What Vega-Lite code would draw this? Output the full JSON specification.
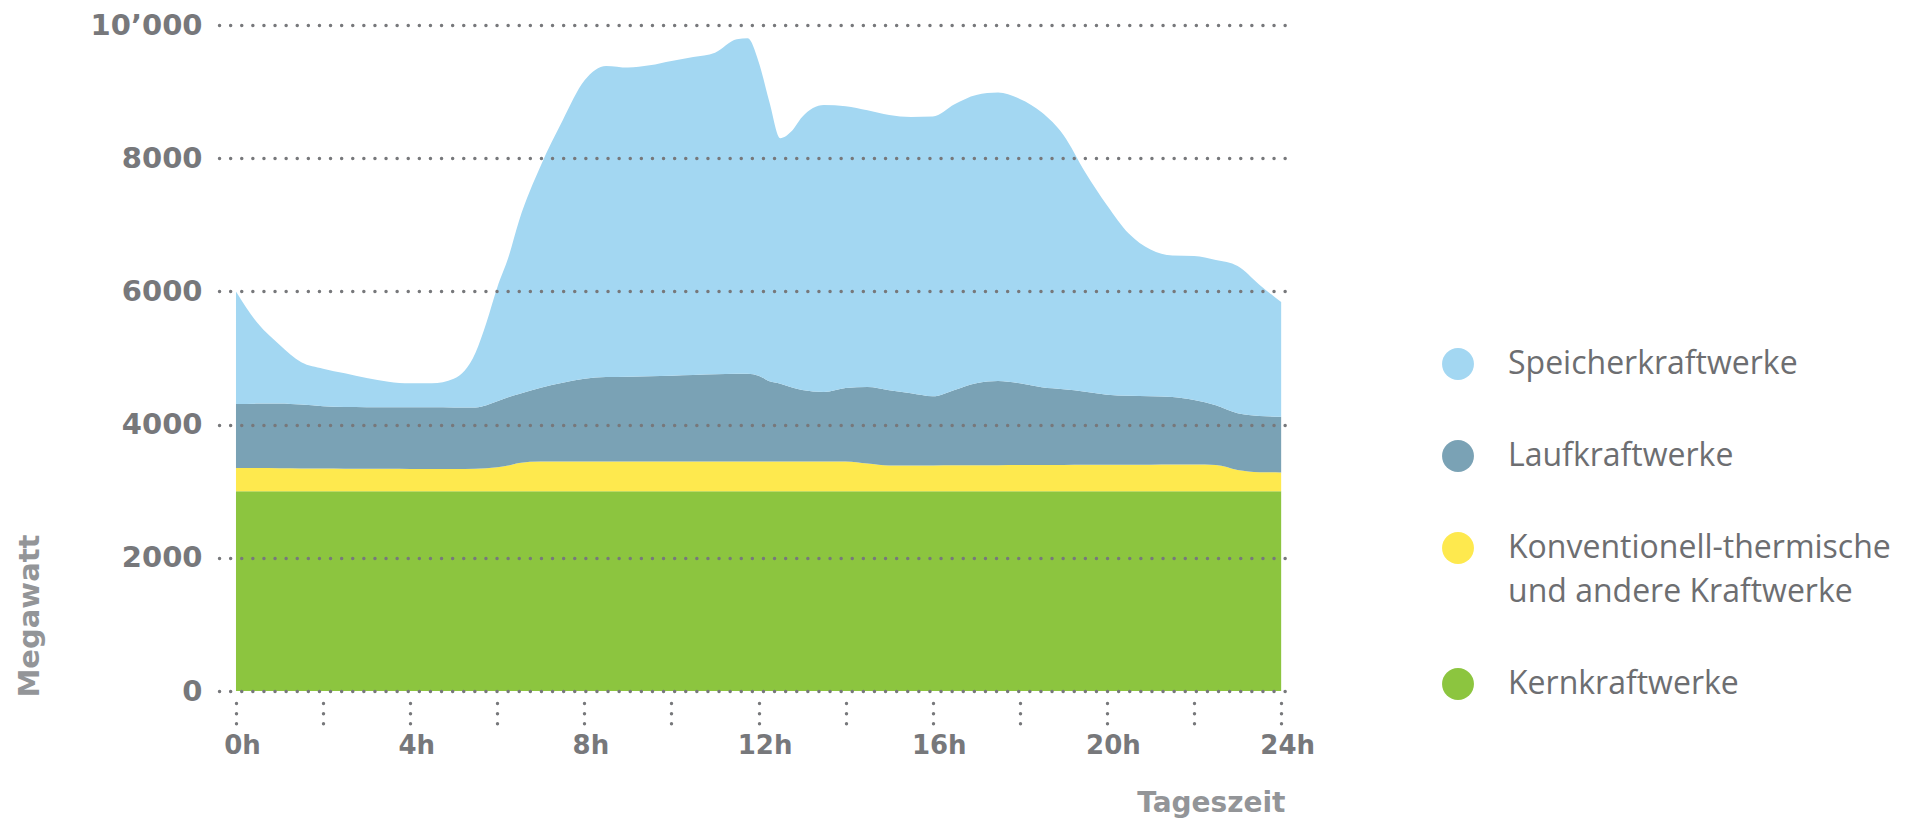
{
  "$schema": "https://vega.github.io/schema/vega-lite/v6.json",
  "autosize": {"type": "none"},
  "width": 1070,
  "height": 666,
  "padding": {"left": 219, "top": 25, "right": 630, "bottom": 131},
  "background": "white",
  "config": {"view": {"stroke": null}},
  "data": {"values": [
    {"t":0,"s":"Kernkraftwerke","v":3000},{"t":0.5,"s":"Kernkraftwerke","v":3000},{"t":1,"s":"Kernkraftwerke","v":3000},{"t":1.5,"s":"Kernkraftwerke","v":3000},{"t":2,"s":"Kernkraftwerke","v":3000},{"t":2.5,"s":"Kernkraftwerke","v":3000},{"t":3,"s":"Kernkraftwerke","v":3000},{"t":3.5,"s":"Kernkraftwerke","v":3000},{"t":4,"s":"Kernkraftwerke","v":3000},{"t":4.5,"s":"Kernkraftwerke","v":3000},{"t":5,"s":"Kernkraftwerke","v":3000},{"t":5.5,"s":"Kernkraftwerke","v":3000},{"t":5.75,"s":"Kernkraftwerke","v":3000},{"t":6,"s":"Kernkraftwerke","v":3000},{"t":6.25,"s":"Kernkraftwerke","v":3000},{"t":6.5,"s":"Kernkraftwerke","v":3000},{"t":7,"s":"Kernkraftwerke","v":3000},{"t":7.5,"s":"Kernkraftwerke","v":3000},{"t":8,"s":"Kernkraftwerke","v":3000},{"t":8.5,"s":"Kernkraftwerke","v":3000},{"t":9,"s":"Kernkraftwerke","v":3000},{"t":9.5,"s":"Kernkraftwerke","v":3000},{"t":10,"s":"Kernkraftwerke","v":3000},{"t":10.5,"s":"Kernkraftwerke","v":3000},{"t":11,"s":"Kernkraftwerke","v":3000},{"t":11.5,"s":"Kernkraftwerke","v":3000},{"t":11.75,"s":"Kernkraftwerke","v":3000},{"t":12,"s":"Kernkraftwerke","v":3000},{"t":12.25,"s":"Kernkraftwerke","v":3000},{"t":12.5,"s":"Kernkraftwerke","v":3000},{"t":12.75,"s":"Kernkraftwerke","v":3000},{"t":13,"s":"Kernkraftwerke","v":3000},{"t":13.5,"s":"Kernkraftwerke","v":3000},{"t":14,"s":"Kernkraftwerke","v":3000},{"t":14.5,"s":"Kernkraftwerke","v":3000},{"t":15,"s":"Kernkraftwerke","v":3000},{"t":15.5,"s":"Kernkraftwerke","v":3000},{"t":16,"s":"Kernkraftwerke","v":3000},{"t":16.5,"s":"Kernkraftwerke","v":3000},{"t":17,"s":"Kernkraftwerke","v":3000},{"t":17.5,"s":"Kernkraftwerke","v":3000},{"t":18,"s":"Kernkraftwerke","v":3000},{"t":18.5,"s":"Kernkraftwerke","v":3000},{"t":19,"s":"Kernkraftwerke","v":3000},{"t":19.5,"s":"Kernkraftwerke","v":3000},{"t":20,"s":"Kernkraftwerke","v":3000},{"t":20.5,"s":"Kernkraftwerke","v":3000},{"t":21,"s":"Kernkraftwerke","v":3000},{"t":21.5,"s":"Kernkraftwerke","v":3000},{"t":22,"s":"Kernkraftwerke","v":3000},{"t":22.5,"s":"Kernkraftwerke","v":3000},{"t":23,"s":"Kernkraftwerke","v":3000},{"t":23.5,"s":"Kernkraftwerke","v":3000},{"t":24,"s":"Kernkraftwerke","v":3000},

    {"t":0,"s":"Konventionell-thermische und andere Kraftwerke","v":350},{"t":0.5,"s":"Konventionell-thermische und andere Kraftwerke","v":348},{"t":1,"s":"Konventionell-thermische und andere Kraftwerke","v":345},{"t":1.5,"s":"Konventionell-thermische und andere Kraftwerke","v":342},{"t":2,"s":"Konventionell-thermische und andere Kraftwerke","v":340},{"t":2.5,"s":"Konventionell-thermische und andere Kraftwerke","v":338},{"t":3,"s":"Konventionell-thermische und andere Kraftwerke","v":337},{"t":3.5,"s":"Konventionell-thermische und andere Kraftwerke","v":336},{"t":4,"s":"Konventionell-thermische und andere Kraftwerke","v":335},{"t":4.5,"s":"Konventionell-thermische und andere Kraftwerke","v":335},{"t":5,"s":"Konventionell-thermische und andere Kraftwerke","v":335},{"t":5.5,"s":"Konventionell-thermische und andere Kraftwerke","v":338},{"t":5.75,"s":"Konventionell-thermische und andere Kraftwerke","v":345},{"t":6,"s":"Konventionell-thermische und andere Kraftwerke","v":360},{"t":6.25,"s":"Konventionell-thermische und andere Kraftwerke","v":385},{"t":6.5,"s":"Konventionell-thermische und andere Kraftwerke","v":425},{"t":7,"s":"Konventionell-thermische und andere Kraftwerke","v":445},{"t":7.5,"s":"Konventionell-thermische und andere Kraftwerke","v":447},{"t":8,"s":"Konventionell-thermische und andere Kraftwerke","v":447},{"t":8.5,"s":"Konventionell-thermische und andere Kraftwerke","v":447},{"t":9,"s":"Konventionell-thermische und andere Kraftwerke","v":447},{"t":9.5,"s":"Konventionell-thermische und andere Kraftwerke","v":447},{"t":10,"s":"Konventionell-thermische und andere Kraftwerke","v":447},{"t":10.5,"s":"Konventionell-thermische und andere Kraftwerke","v":447},{"t":11,"s":"Konventionell-thermische und andere Kraftwerke","v":447},{"t":11.5,"s":"Konventionell-thermische und andere Kraftwerke","v":447},{"t":11.75,"s":"Konventionell-thermische und andere Kraftwerke","v":447},{"t":12,"s":"Konventionell-thermische und andere Kraftwerke","v":446},{"t":12.25,"s":"Konventionell-thermische und andere Kraftwerke","v":445},{"t":12.5,"s":"Konventionell-thermische und andere Kraftwerke","v":445},{"t":12.75,"s":"Konventionell-thermische und andere Kraftwerke","v":445},{"t":13,"s":"Konventionell-thermische und andere Kraftwerke","v":445},{"t":13.5,"s":"Konventionell-thermische und andere Kraftwerke","v":445},{"t":14,"s":"Konventionell-thermische und andere Kraftwerke","v":445},{"t":14.5,"s":"Konventionell-thermische und andere Kraftwerke","v":415},{"t":15,"s":"Konventionell-thermische und andere Kraftwerke","v":385},{"t":15.5,"s":"Konventionell-thermische und andere Kraftwerke","v":385},{"t":16,"s":"Konventionell-thermische und andere Kraftwerke","v":387},{"t":16.5,"s":"Konventionell-thermische und andere Kraftwerke","v":388},{"t":17,"s":"Konventionell-thermische und andere Kraftwerke","v":390},{"t":17.5,"s":"Konventionell-thermische und andere Kraftwerke","v":390},{"t":18,"s":"Konventionell-thermische und andere Kraftwerke","v":392},{"t":18.5,"s":"Konventionell-thermische und andere Kraftwerke","v":393},{"t":19,"s":"Konventionell-thermische und andere Kraftwerke","v":395},{"t":19.5,"s":"Konventionell-thermische und andere Kraftwerke","v":396},{"t":20,"s":"Konventionell-thermische und andere Kraftwerke","v":397},{"t":20.5,"s":"Konventionell-thermische und andere Kraftwerke","v":398},{"t":21,"s":"Konventionell-thermische und andere Kraftwerke","v":399},{"t":21.5,"s":"Konventionell-thermische und andere Kraftwerke","v":400},{"t":22,"s":"Konventionell-thermische und andere Kraftwerke","v":400},{"t":22.5,"s":"Konventionell-thermische und andere Kraftwerke","v":395},{"t":23,"s":"Konventionell-thermische und andere Kraftwerke","v":320},{"t":23.5,"s":"Konventionell-thermische und andere Kraftwerke","v":285},{"t":24,"s":"Konventionell-thermische und andere Kraftwerke","v":282},

    {"t":0,"s":"Laufkraftwerke","v":960},{"t":0.5,"s":"Laufkraftwerke","v":967},{"t":1,"s":"Laufkraftwerke","v":973},{"t":1.5,"s":"Laufkraftwerke","v":958},{"t":2,"s":"Laufkraftwerke","v":935},{"t":2.5,"s":"Laufkraftwerke","v":925},{"t":3,"s":"Laufkraftwerke","v":925},{"t":3.5,"s":"Laufkraftwerke","v":926},{"t":4,"s":"Laufkraftwerke","v":927},{"t":4.5,"s":"Laufkraftwerke","v":925},{"t":5,"s":"Laufkraftwerke","v":923},{"t":5.5,"s":"Laufkraftwerke","v":917},{"t":5.75,"s":"Laufkraftwerke","v":945},{"t":6,"s":"Laufkraftwerke","v":990},{"t":6.25,"s":"Laufkraftwerke","v":1025},{"t":6.5,"s":"Laufkraftwerke","v":1035},{"t":7,"s":"Laufkraftwerke","v":1110},{"t":7.5,"s":"Laufkraftwerke","v":1183},{"t":8,"s":"Laufkraftwerke","v":1243},{"t":8.5,"s":"Laufkraftwerke","v":1268},{"t":9,"s":"Laufkraftwerke","v":1273},{"t":9.5,"s":"Laufkraftwerke","v":1278},{"t":10,"s":"Laufkraftwerke","v":1288},{"t":10.5,"s":"Laufkraftwerke","v":1298},{"t":11,"s":"Laufkraftwerke","v":1308},{"t":11.5,"s":"Laufkraftwerke","v":1318},{"t":11.75,"s":"Laufkraftwerke","v":1318},{"t":12,"s":"Laufkraftwerke","v":1289},{"t":12.25,"s":"Laufkraftwerke","v":1205},{"t":12.5,"s":"Laufkraftwerke","v":1170},{"t":12.75,"s":"Laufkraftwerke","v":1115},{"t":13,"s":"Laufkraftwerke","v":1075},{"t":13.5,"s":"Laufkraftwerke","v":1045},{"t":14,"s":"Laufkraftwerke","v":1105},{"t":14.5,"s":"Laufkraftwerke","v":1150},{"t":15,"s":"Laufkraftwerke","v":1130},{"t":15.5,"s":"Laufkraftwerke","v":1085},{"t":16,"s":"Laufkraftwerke","v":1038},{"t":16.5,"s":"Laufkraftwerke","v":1132},{"t":17,"s":"Laufkraftwerke","v":1230},{"t":17.5,"s":"Laufkraftwerke","v":1265},{"t":18,"s":"Laufkraftwerke","v":1228},{"t":18.5,"s":"Laufkraftwerke","v":1167},{"t":19,"s":"Laufkraftwerke","v":1135},{"t":19.5,"s":"Laufkraftwerke","v":1099},{"t":20,"s":"Laufkraftwerke","v":1053},{"t":20.5,"s":"Laufkraftwerke","v":1037},{"t":21,"s":"Laufkraftwerke","v":1026},{"t":21.5,"s":"Laufkraftwerke","v":1015},{"t":22,"s":"Laufkraftwerke","v":970},{"t":22.5,"s":"Laufkraftwerke","v":895},{"t":23,"s":"Laufkraftwerke","v":850},{"t":23.5,"s":"Laufkraftwerke","v":845},{"t":24,"s":"Laufkraftwerke","v":836},

    {"t":0,"s":"Speicherkraftwerke","v":1690},{"t":0.5,"s":"Speicherkraftwerke","v":1205},{"t":1,"s":"Speicherkraftwerke","v":882},{"t":1.5,"s":"Speicherkraftwerke","v":635},{"t":2,"s":"Speicherkraftwerke","v":565},{"t":2.5,"s":"Speicherkraftwerke","v":507},{"t":3,"s":"Speicherkraftwerke","v":438},{"t":3.5,"s":"Speicherkraftwerke","v":383},{"t":4,"s":"Speicherkraftwerke","v":358},{"t":4.5,"s":"Speicherkraftwerke","v":360},{"t":5,"s":"Speicherkraftwerke","v":432},{"t":5.5,"s":"Speicherkraftwerke","v":825},{"t":5.75,"s":"Speicherkraftwerke","v":1240},{"t":6,"s":"Speicherkraftwerke","v":1710},{"t":6.25,"s":"Speicherkraftwerke","v":2090},{"t":6.5,"s":"Speicherkraftwerke","v":2600},{"t":7,"s":"Speicherkraftwerke","v":3335},{"t":7.5,"s":"Speicherkraftwerke","v":3935},{"t":8,"s":"Speicherkraftwerke","v":4475},{"t":8.5,"s":"Speicherkraftwerke","v":4670},{"t":9,"s":"Speicherkraftwerke","v":4640},{"t":9.5,"s":"Speicherkraftwerke","v":4670},{"t":10,"s":"Speicherkraftwerke","v":4725},{"t":10.5,"s":"Speicherkraftwerke","v":4775},{"t":11,"s":"Speicherkraftwerke","v":4830},{"t":11.5,"s":"Speicherkraftwerke","v":5020},{"t":11.75,"s":"Speicherkraftwerke","v":5035},{"t":12,"s":"Speicherkraftwerke","v":4715},{"t":12.25,"s":"Speicherkraftwerke","v":4190},{"t":12.5,"s":"Speicherkraftwerke","v":3685},{"t":12.75,"s":"Speicherkraftwerke","v":3840},{"t":13,"s":"Speicherkraftwerke","v":4100},{"t":13.5,"s":"Speicherkraftwerke","v":4310},{"t":14,"s":"Speicherkraftwerke","v":4230},{"t":14.5,"s":"Speicherkraftwerke","v":4155},{"t":15,"s":"Speicherkraftwerke","v":4135},{"t":15.5,"s":"Speicherkraftwerke","v":4150},{"t":16,"s":"Speicherkraftwerke","v":4200},{"t":16.5,"s":"Speicherkraftwerke","v":4290},{"t":17,"s":"Speicherkraftwerke","v":4330},{"t":17.5,"s":"Speicherkraftwerke","v":4330},{"t":18,"s":"Speicherkraftwerke","v":4270},{"t":18.5,"s":"Speicherkraftwerke","v":4130},{"t":19,"s":"Speicherkraftwerke","v":3820},{"t":19.5,"s":"Speicherkraftwerke","v":3295},{"t":20,"s":"Speicherkraftwerke","v":2845},{"t":20.5,"s":"Speicherkraftwerke","v":2435},{"t":21,"s":"Speicherkraftwerke","v":2205},{"t":21.5,"s":"Speicherkraftwerke","v":2125},{"t":22,"s":"Speicherkraftwerke","v":2160},{"t":22.5,"s":"Speicherkraftwerke","v":2180},{"t":23,"s":"Speicherkraftwerke","v":2210},{"t":23.5,"s":"Speicherkraftwerke","v":1970},{"t":24,"s":"Speicherkraftwerke","v":1722}
  ]},
  "mark": {"type": "area", "interpolate": "monotone", "opacity": 1},
  "encoding": {
    "x": {
      "field": "t", "type": "quantitative",
      "scale": {"domain": [-0.39, 24.18], "nice": false, "zero": false},
      "axis": {
        "title": "Tageszeit",
        "values": [0,2,4,6,8,10,12,14,16,18,20,22,24],
        "labelExpr": "datum.value % 4 == 0 ? datum.value + 'h' : ''",
        "labelOverlap": false,
        "labelFlush": false,
        "grid": false,
        "domain": false,
        "offset": 12,
        "ticks": true,
        "tickSize": 22,
        "tickDash": [0.1, 10],
        "tickCap": "round",
        "tickWidth": 3.4,
        "tickColor": "#77787b",
        "labelPadding": 7,
        "labelOffset": 6,
        "labelFont": "DejaVu Sans",
        "labelFontWeight": "bold",
        "labelFontSize": 26,
        "labelColor": "#77787b",
        "titleFont": "DejaVu Sans",
        "titleFontWeight": "bold",
        "titleFontSize": 28,
        "titleColor": "#939598",
        "titleAlign": "right",
        "titleBaseline": "middle",
        "titleAnchor": "end",
        "titleX": 1066,
        "titleY": 100
      }
    },
    "y": {
      "field": "v", "type": "quantitative", "stack": "zero",
      "scale": {"domain": [0, 10000], "nice": false},
      "axis": {
        "title": "Megawatt",
        "values": [0,2000,4000,6000,8000,10000],
        "labelExpr": "datum.value == 10000 ? '10’000' : format(datum.value, 'd')",
        "zindex": 1,
        "domain": false,
        "ticks": false,
        "grid": true,
        "gridDash": [0.1, 11],
        "gridCap": "round",
        "gridWidth": 3.4,
        "gridColor": "#77787b",
        "gridOpacity": 1,
        "labelPadding": 17,
        "labelFont": "DejaVu Sans",
        "labelFontWeight": "bold",
        "labelFontSize": 29,
        "labelColor": "#77787b",
        "titleFont": "DejaVu Sans",
        "titleFontWeight": "bold",
        "titleFontSize": 29,
        "titleColor": "#939598",
        "titleAngle": 270,
        "titleAlign": "left",
        "titleBaseline": "middle",
        "titleX": -190,
        "titleY": 672
      }
    },
    "color": {
      "field": "s", "type": "nominal",
      "scale": {
        "domain": ["Speicherkraftwerke", "Laufkraftwerke", "Konventionell-thermische und andere Kraftwerke", "Kernkraftwerke"],
        "range": ["#A3D7F2", "#7AA2B5", "#FEE94E", "#8CC53F"]
      },
      "legend": {
        "title": null,
        "orient": "none",
        "legendX": 1223,
        "legendY": 323,
        "padding": 0,
        "symbolType": "circle",
        "symbolSize": 1018,
        "symbolStrokeWidth": 0,
        "symbolOpacity": 1,
        "rowPadding": 60,
        "labelOffset": 34,
        "labelFont": "Open Sans",
        "labelFontSize": 32,
        "labelColor": "#6d6e71",
        "labelLimit": 600,
        "labelExpr": "datum.value == 'Konventionell-thermische und andere Kraftwerke' ? ['Konventionell-thermische', 'und andere Kraftwerke'] : datum.label",
        "encode": {
          "labels": {"update": {
            "lineHeight": {"value": 44}
          }}
        }
      }
    },
    "order": {"field": "s", "sort": "ascending"}
  }
}
